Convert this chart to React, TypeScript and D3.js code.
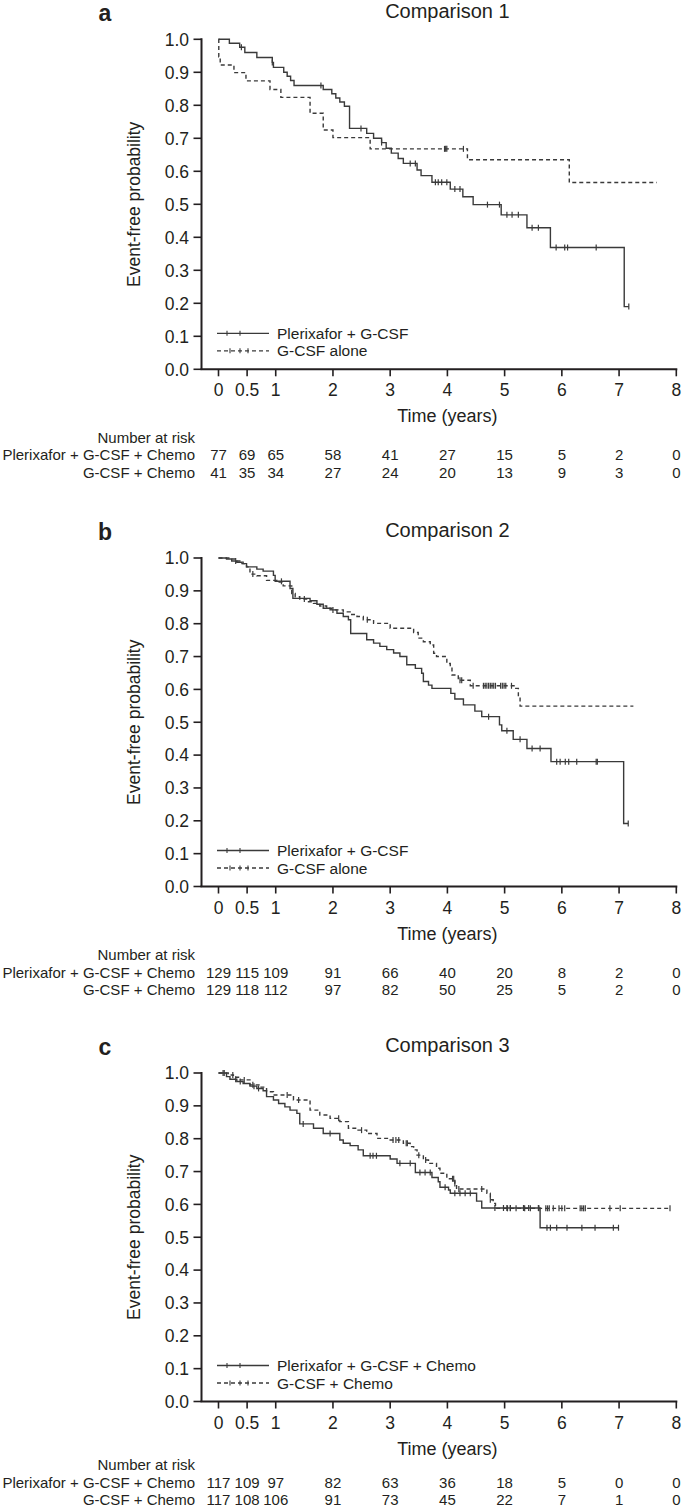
import * as d3 from "d3";

// ---- shared ----
const xTicks = [0, 0.5, 1, 2, 3, 4, 5, 6, 7, 8];
const yTicks = [0, 0.1, 0.2, 0.3, 0.4, 0.5, 0.6, 0.7, 0.8, 0.9, 1.0];
const riskLabels = ["Plerixafor + G-CSF + Chemo", "G-CSF + Chemo"];

// ---- Comparison 1 ----
const aSolid: [number, number][] = [
  [0, 1], [0.19, 0.988], [0.37, 0.976], [0.46, 0.96], [0.67, 0.945], [0.94, 0.93], [0.96, 0.915],
  [1.14, 0.9], [1.2, 0.888], [1.26, 0.875], [1.32, 0.86], [1.83, 0.848], [1.98, 0.835], [2.05, 0.822],
  [2.12, 0.81], [2.2, 0.797], [2.29, 0.73], [2.59, 0.715], [2.71, 0.7], [2.85, 0.687], [2.93, 0.67],
  [3.02, 0.655], [3.14, 0.639], [3.23, 0.624], [3.47, 0.604], [3.54, 0.587], [3.73, 0.567],
  [4.05, 0.546], [4.27, 0.523], [4.45, 0.499], [4.94, 0.468], [5.39, 0.429], [5.8, 0.369], [7.09, 0.19],
];
const aSolidEnd = 7.17;
const aSolidCens = [0.4, 0.94, 1.79, 2.49, 2.85, 3.35, 3.44, 3.79, 3.84, 3.9, 3.99, 4.13, 4.22, 4.7, 4.91,
  5.04, 5.13, 5.24, 5.48, 5.59, 5.9, 6.05, 6.1, 6.6, 7.17];
const aDashed: [number, number][] = [
  [0, 1], [0.005, 0.947], [0.03, 0.922], [0.27, 0.899], [0.48, 0.874], [0.9, 0.848], [1.09, 0.824],
  [1.6, 0.776], [1.83, 0.725], [2.0, 0.702], [2.65, 0.668], [4.35, 0.635], [6.13, 0.566],
];
const aDashedEnd = 7.66;
const aDashedCens = [3.95, 3.97, 3.99, 4.28];
const aRiskTop = [77, 69, 65, 58, 41, 27, 15, 5, 2, 0];
const aRiskBottom = [41, 35, 34, 27, 24, 20, 13, 9, 3, 0];

// ---- Comparison 2 ----
const bSolid: [number, number][] = [
  [0, 1], [0.14, 0.997], [0.23, 0.991], [0.32, 0.987], [0.41, 0.983], [0.49, 0.973], [0.67, 0.966],
  [0.78, 0.96], [0.96, 0.947], [0.99, 0.929], [1.25, 0.907], [1.3, 0.877], [1.6, 0.87], [1.72, 0.859],
  [1.83, 0.847], [1.95, 0.842], [2.07, 0.832], [2.18, 0.822], [2.27, 0.812], [2.31, 0.77], [2.59, 0.751],
  [2.71, 0.741], [2.82, 0.731], [2.94, 0.721], [3.06, 0.711], [3.17, 0.7], [3.29, 0.675], [3.44, 0.664],
  [3.55, 0.649], [3.58, 0.624], [3.67, 0.613], [3.73, 0.603], [4.06, 0.588], [4.13, 0.571],
  [4.28, 0.553], [4.48, 0.534], [4.6, 0.517], [4.91, 0.492], [4.95, 0.474], [5.15, 0.448],
  [5.39, 0.42], [5.81, 0.38], [7.08, 0.192],
];
const bSolidEnd = 7.16;
const bSolidCens = [0.3, 1.1, 2.0, 4.72, 5.04, 5.27, 5.48, 5.62, 5.91, 5.97, 6.06, 6.12, 6.26, 6.6, 6.62, 7.16];
const bDashed: [number, number][] = [
  [0, 1], [0.2, 0.997], [0.32, 0.991], [0.43, 0.983], [0.49, 0.973], [0.55, 0.951], [0.67, 0.946],
  [0.84, 0.932], [1.02, 0.927], [1.13, 0.915], [1.28, 0.892], [1.34, 0.882], [1.42, 0.875],
  [1.54, 0.867], [1.66, 0.862], [1.77, 0.854], [1.89, 0.847], [1.98, 0.842], [2.18, 0.836],
  [2.3, 0.828], [2.42, 0.822], [2.53, 0.812], [2.71, 0.801], [3.0, 0.786], [3.41, 0.773],
  [3.49, 0.756], [3.58, 0.745], [3.7, 0.735], [3.76, 0.71], [3.81, 0.7], [3.99, 0.679], [4.05, 0.669],
  [4.08, 0.644], [4.19, 0.628], [4.4, 0.611], [5.18, 0.603], [5.24, 0.578], [5.27, 0.549],
];
const bDashedEnd = 7.25;
const bDashedCens = [0.6, 1.5, 2.6, 4.22, 4.25, 4.45, 4.63, 4.66, 4.69, 4.72, 4.75, 4.78, 4.81, 4.84,
  4.93, 4.96, 4.99, 5.02, 5.12];
const bRiskTop = [129, 115, 109, 91, 66, 40, 20, 8, 2, 0];
const bRiskBottom = [129, 118, 112, 97, 82, 50, 25, 5, 2, 0];

// ---- Comparison 3 ----
const cSolid: [number, number][] = [
  [0, 1], [0.14, 0.989], [0.2, 0.981], [0.32, 0.974], [0.43, 0.968], [0.55, 0.96], [0.67, 0.953],
  [0.78, 0.946], [0.84, 0.928], [0.96, 0.918], [1.05, 0.907], [1.16, 0.897], [1.25, 0.887],
  [1.37, 0.877], [1.42, 0.845], [1.66, 0.832], [1.83, 0.816], [2.12, 0.796], [2.18, 0.786],
  [2.3, 0.779], [2.44, 0.766], [2.53, 0.748], [3.0, 0.738], [3.12, 0.725], [3.44, 0.697],
  [3.73, 0.682], [3.84, 0.669], [3.87, 0.652], [4.02, 0.644], [4.05, 0.634], [4.51, 0.61],
  [4.6, 0.589], [5.62, 0.529],
];
const cSolidEnd = 6.99;
const cSolidCens = [0.08, 0.3, 0.38, 0.62, 0.7, 1.48, 1.95, 2.65, 2.7, 2.76, 3.17, 3.35, 3.52, 3.61, 3.7,
  3.96, 4.13, 4.22, 4.31, 4.4, 4.83, 4.98, 5.04, 5.1, 5.33, 5.42, 5.59, 5.74, 5.8, 5.91, 6.09, 6.35,
  6.58, 6.9, 6.99];
const cDashed: [number, number][] = [
  [0, 1], [0.17, 0.994], [0.26, 0.987], [0.38, 0.979], [0.55, 0.964], [0.73, 0.957], [0.84, 0.943],
  [0.96, 0.933], [1.31, 0.918], [1.6, 0.887], [1.77, 0.872], [1.95, 0.862], [2.12, 0.852],
  [2.27, 0.832], [2.42, 0.826], [2.59, 0.816], [2.77, 0.801], [3.0, 0.796], [3.23, 0.786],
  [3.35, 0.776], [3.41, 0.766], [3.47, 0.75], [3.58, 0.735], [3.67, 0.725], [3.81, 0.71],
  [3.87, 0.695], [3.99, 0.678], [4.13, 0.664], [4.16, 0.647], [4.69, 0.634], [4.75, 0.614],
  [4.8, 0.603], [4.84, 0.588],
];
const cDashedEnd = 7.89;
const cDashedCens = [0.1, 0.25, 0.45, 0.6, 1.2, 1.4, 2.1, 2.5, 3.05, 3.1, 3.15, 3.28, 3.3, 3.5, 3.62,
  4.09, 4.11, 4.13, 4.2, 4.6, 4.75, 5.05, 5.1, 5.2, 5.35, 5.45, 5.6, 5.72, 5.75, 5.78, 5.85, 5.95,
  6.0, 6.05, 6.32, 6.35, 6.38, 6.41, 6.84, 7.02, 7.89];
const cRiskTop = [117, 109, 97, 82, 63, 36, 18, 5, 0, 0];
const cRiskBottom = [117, 108, 106, 91, 73, 45, 22, 7, 1, 0];

const INK = "#231f20";
const CURVE = "#3a3a3a";
const FONT = "'Liberation Sans', Arial, Helvetica, sans-serif";

const x = d3.scaleLinear().domain([0, 8]).range([218.5, 676.3]);

function survAt(steps: [number, number][], t: number) {
  let s = 1;
  for (const [tt, p] of steps) if (tt <= t) s = p;
  return s;
}

type PanelProps = {
  top: number;
  bottom: number;
  letter: string;
  title: string;
  solid: [number, number][];
  solidEnd: number;
  solidCens: number[];
  dashed: [number, number][];
  dashedEnd: number;
  dashedCens: number[];
  legend: string[];
  riskTop: number[];
  riskBottom: number[];
  riskShift?: number;
};

function Panel(p: PanelProps) {
  const y = d3.scaleLinear().domain([0, 1]).range([p.bottom, p.top]);
  const line = d3
    .line<[number, number]>()
    .x((d) => x(d[0]))
    .y((d) => y(d[1]))
    .curve(d3.curveStepAfter);
  const path = (steps: [number, number][], end: number) =>
    line([...steps, [end, steps[steps.length - 1][1]]]) || "";
  const y0 = p.bottom;
  const axisX = 201.5;
  const midX = x(4);
  const rs = p.riskShift || 0;

  const series = [
    { steps: p.solid, end: p.solidEnd, cens: p.solidCens, dash: undefined as string | undefined, legTicks: [227, 240] },
    { steps: p.dashed, end: p.dashedEnd, cens: p.dashedCens, dash: "4 3", legTicks: [230, 240, 248] },
  ];

  return (
    <g fontFamily={FONT} fill={INK}>
      <text x={105} y={p.top - 18} fontSize={23} fontWeight="bold" textAnchor="middle">
        {p.letter}
      </text>
      <text x={midX} y={p.top - 21} fontSize={20} textAnchor="middle">
        {p.title}
      </text>

      {/* y axis */}
      <line x1={axisX} x2={axisX} y1={p.top - 1} y2={y0} stroke={INK} strokeWidth={2} />
      {yTicks.map((t) => (
        <g key={"y" + t}>
          <line x1={axisX - 8} x2={axisX} y1={y(t)} y2={y(t)} stroke={INK} strokeWidth={1.6} />
          <text x={189} y={y(t) + 6.3} fontSize={17.5} textAnchor="end">
            {t.toFixed(1)}
          </text>
        </g>
      ))}
      <text
        transform={`translate(140,${(p.top + y0) / 2}) rotate(-90)`}
        fontSize={17.5}
        textAnchor="middle"
      >
        Event-free probability
      </text>

      {/* x axis */}
      <line x1={axisX - 1} x2={x(8) + 1} y1={y0} y2={y0} stroke={INK} strokeWidth={2} />
      {xTicks.map((t) => (
        <g key={"x" + t}>
          <line x1={x(t)} x2={x(t)} y1={y0} y2={y0 + 7} stroke={INK} strokeWidth={1.6} />
          <text x={x(t)} y={y0 + 27} fontSize={17.5} textAnchor="middle">
            {String(t)}
          </text>
        </g>
      ))}
      <text x={midX} y={y0 + 53} fontSize={18} textAnchor="middle">
        Time (years)
      </text>

      {/* curves */}
      {series.map((s, i) => (
        <g key={"s" + i}>
          <path d={path(s.steps, s.end)} fill="none" stroke={CURVE} strokeWidth={1.4} strokeDasharray={s.dash} />
          {s.cens.map((c, j) => (
            <line
              key={j}
              x1={x(c)}
              x2={x(c)}
              y1={y(survAt(s.steps, c)) - 3}
              y2={y(survAt(s.steps, c)) + 3}
              stroke={CURVE}
              strokeWidth={1.2}
            />
          ))}
        </g>
      ))}

      {/* legend */}
      {series.map((s, i) => {
        const ly = y0 - 36 + i * 17.5;
        return (
          <g key={"l" + i}>
            <line x1={217} x2={269} y1={ly} y2={ly} stroke={CURVE} strokeWidth={1.3} strokeDasharray={s.dash} />
            {s.legTicks.map((lx) => (
              <line key={lx} x1={lx} x2={lx} y1={ly - 2.5} y2={ly + 2.5} stroke={CURVE} strokeWidth={1.1} />
            ))}
            <text x={277} y={ly + 5.5} fontSize={15.5}>
              {p.legend[i]}
            </text>
          </g>
        );
      })}

      {/* number at risk */}
      <text x={195} y={y0 + 73.5 - rs} fontSize={15} textAnchor="end">
        Number at risk
      </text>
      {[p.riskTop, p.riskBottom].map((row, r) => (
        <g key={"r" + r}>
          <text x={195} y={y0 + 91 + r * 17.5 - rs} fontSize={15} textAnchor="end">
            {riskLabels[r]}
          </text>
          {row.map((v, k) => (
            <text key={k} x={x(xTicks[k])} y={y0 + 91 + r * 17.5 - rs} fontSize={15} textAnchor="middle">
              {v}
            </text>
          ))}
        </g>
      ))}
    </g>
  );
}

export default function App() {
  return (
    <svg
      width={685}
      height={1511}
      style={{ position: "absolute", left: 0, top: 0, background: "#fff" }}
    >
      <rect width={685} height={1511} fill="#fff" />
      <Panel
        top={39.3}
        bottom={369.3}
        letter="a"
        title="Comparison 1"
        solid={aSolid}
        solidEnd={aSolidEnd}
        solidCens={aSolidCens}
        dashed={aDashed}
        dashedEnd={aDashedEnd}
        dashedCens={aDashedCens}
        legend={["Plerixafor + G-CSF", "G-CSF alone"]}
        riskTop={aRiskTop}
        riskBottom={aRiskBottom}
      />
      <Panel
        top={558}
        bottom={886.5}
        letter="b"
        title="Comparison 2"
        solid={bSolid}
        solidEnd={bSolidEnd}
        solidCens={bSolidCens}
        dashed={bDashed}
        dashedEnd={bDashedEnd}
        dashedCens={bDashedCens}
        legend={["Plerixafor + G-CSF", "G-CSF alone"]}
        riskTop={bRiskTop}
        riskBottom={bRiskBottom}
      />
      <Panel
        top={1073}
        bottom={1401.5}
        letter="c"
        title="Comparison 3"
        solid={cSolid}
        solidEnd={cSolidEnd}
        solidCens={cSolidCens}
        dashed={cDashed}
        dashedEnd={cDashedEnd}
        dashedCens={cDashedCens}
        legend={["Plerixafor + G-CSF + Chemo", "G-CSF + Chemo"]}
        riskTop={cRiskTop}
        riskBottom={cRiskBottom}
        riskShift={5}
      />
    </svg>
  );
}
